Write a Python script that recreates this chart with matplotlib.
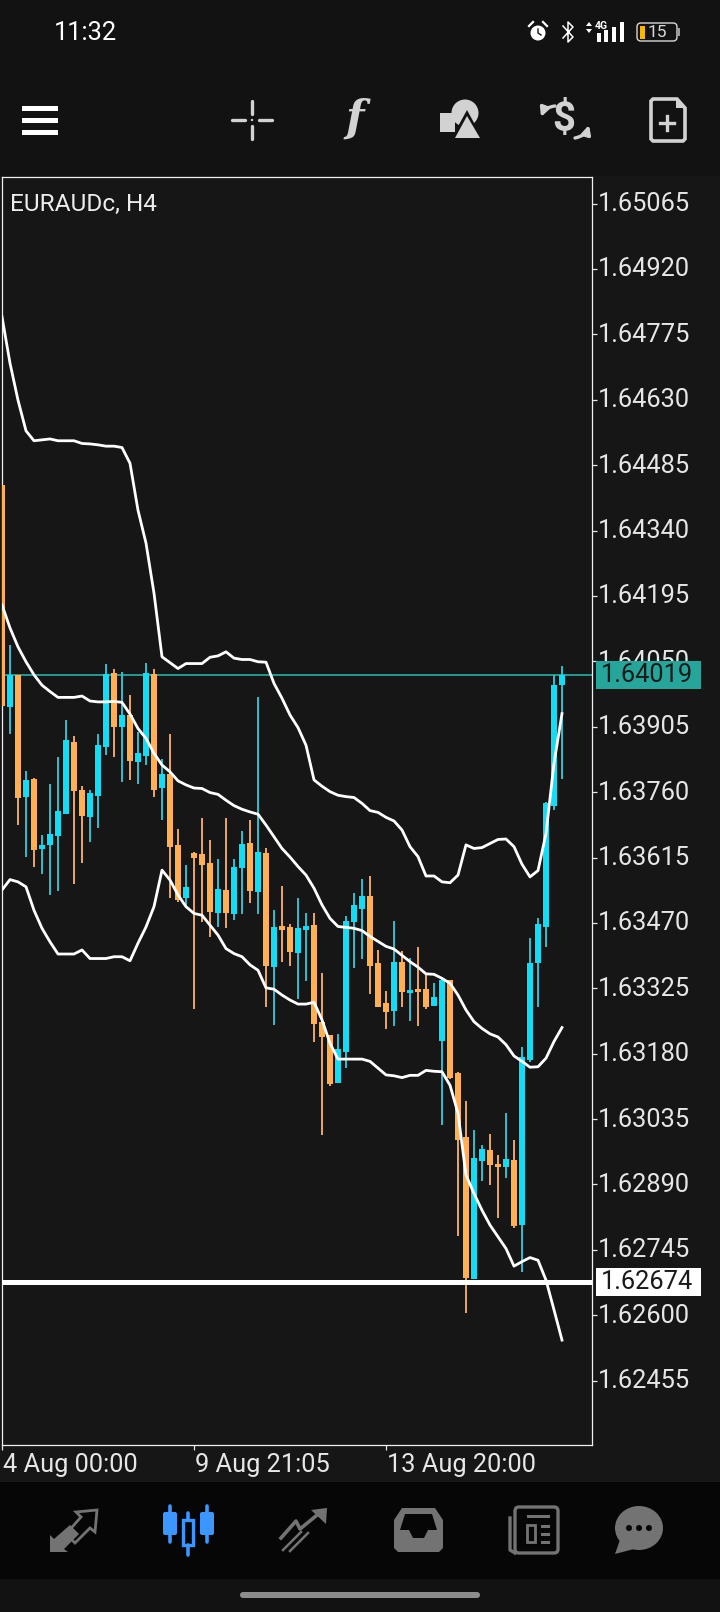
import matplotlib
matplotlib.use("Agg")
import matplotlib.pyplot as plt
import matplotlib.transforms as mtrans
from matplotlib.patches import Rectangle, Circle, Polygon, FancyBboxPatch, Ellipse

plt.rcParams['font.family'] = ['Roboto', 'DejaVu Sans']

# EURAUDc H4 candles
opens = [1.64441, 1.63949, 1.64020, 1.63750, 1.63789, 1.63634, 1.63643, 1.63663, 1.63711, 1.63871,
         1.63765, 1.63705, 1.63751, 1.63860, 1.64024, 1.63904, 1.63931, 1.63827, 1.63840, 1.64022,
         1.63769, 1.63800, 1.63643, 1.63525, 1.63625, 1.63623, 1.63603, 1.63492, 1.63543, 1.63490,
         1.63592, 1.63647, 1.63538, 1.63625, 1.63372, 1.63463, 1.63461, 1.63403, 1.63454, 1.63466,
         1.63250, 1.63222, 1.63115, 1.63184, 1.63472, 1.63501, 1.63530, 1.63381, 1.63293, 1.63275,
         1.63384, 1.63315, 1.63324, 1.63324, 1.63286, 1.63208, 1.63344, 1.63137, 1.62995, 1.62680,
         1.62942, 1.62966, 1.62935, 1.62928, 1.62944, 1.62800, 1.63166, 1.63381, 1.63461, 1.63729,
         1.63997]
highs = [1.64456, 1.64086, 1.64020, 1.63807, 1.63791, 1.63665, 1.63778, 1.63838, 1.63920, 1.63884,
         1.63773, 1.63765, 1.63889, 1.64044, 1.64033, 1.64026, 1.63975, 1.63893, 1.64046, 1.64033,
         1.63833, 1.63889, 1.63678, 1.63598, 1.63627, 1.63702, 1.63654, 1.63612, 1.63702, 1.63612,
         1.63674, 1.63698, 1.63971, 1.63636, 1.63498, 1.63552, 1.63467, 1.63525, 1.63492, 1.63492,
         1.63359, 1.63222, 1.63224, 1.63486, 1.63536, 1.63568, 1.63574, 1.63410, 1.63319, 1.63474,
         1.63408, 1.63392, 1.63417, 1.63355, 1.63337, 1.63348, 1.63344, 1.63139, 1.63075, 1.63010,
         1.62977, 1.63002, 1.62955, 1.63048, 1.62988, 1.63195, 1.63437, 1.63481, 1.63737, 1.64020,
         1.64039]
lows = [1.63920, 1.63889, 1.63687, 1.63617, 1.63595, 1.63578, 1.63532, 1.63541, 1.63711, 1.63556,
        1.63603, 1.63649, 1.63680, 1.63842, 1.63838, 1.63782, 1.63787, 1.63778, 1.63820, 1.63749,
        1.63698, 1.63525, 1.63516, 1.63510, 1.63279, 1.63472, 1.63439, 1.63461, 1.63459, 1.63476,
        1.63490, 1.63514, 1.63490, 1.63284, 1.63244, 1.63383, 1.63375, 1.63301, 1.63341, 1.63206,
        1.63000, 1.63109, 1.63115, 1.63148, 1.63370, 1.63390, 1.63313, 1.63284, 1.63235, 1.63242,
        1.63284, 1.63253, 1.63242, 1.63279, 1.63286, 1.63022, 1.63124, 1.62776, 1.62605, 1.62680,
        1.62897, 1.62889, 1.62815, 1.62904, 1.62793, 1.62696, 1.63162, 1.63284, 1.63416, 1.63720,
        1.63789]
closes = [1.63951, 1.64020, 1.63748, 1.63787, 1.63632, 1.63643, 1.63667, 1.63718, 1.63875, 1.63762,
          1.63707, 1.63758, 1.63864, 1.64022, 1.63904, 1.63931, 1.63829, 1.63847, 1.64024, 1.63765,
          1.63800, 1.63638, 1.63521, 1.63549, 1.63614, 1.63598, 1.63494, 1.63545, 1.63492, 1.63594,
          1.63645, 1.63541, 1.63627, 1.63375, 1.63461, 1.63454, 1.63405, 1.63459, 1.63463, 1.63246,
          1.63217, 1.63113, 1.63191, 1.63474, 1.63510, 1.63530, 1.63375, 1.63284, 1.63273, 1.63384,
          1.63317, 1.63321, 1.63317, 1.63284, 1.63306, 1.63344, 1.63126, 1.62988, 1.62682, 1.62948,
          1.62968, 1.62933, 1.62928, 1.62946, 1.62798, 1.63172, 1.63381, 1.63468, 1.63736, 1.63997,
          1.64020]

# Bollinger bands
upper_band = [1.64814, 1.64711, 1.64629, 1.64561, 1.64539, 1.64541, 1.64543, 1.64539, 1.64539, 1.64539,
              1.64533, 1.64532, 1.64530, 1.64527, 1.64527, 1.64524, 1.64489, 1.64385, 1.64312, 1.64201,
              1.64060, 1.64047, 1.64034, 1.64045, 1.64045, 1.64045, 1.64059, 1.64062, 1.64071, 1.64057,
              1.64054, 1.64054, 1.64049, 1.64048, 1.64001, 1.63968, 1.63931, 1.63903, 1.63864, 1.63787,
              1.63773, 1.63761, 1.63753, 1.63750, 1.63748, 1.63735, 1.63719, 1.63715, 1.63704, 1.63696,
              1.63676, 1.63639, 1.63617, 1.63574, 1.63574, 1.63561, 1.63559, 1.63576, 1.63643, 1.63635,
              1.63637, 1.63646, 1.63655, 1.63656, 1.63639, 1.63600, 1.63572, 1.63586, 1.63668, 1.63824,
              1.63934]
middle_band = [1.64175, 1.64124, 1.64082, 1.64049, 1.64020, 1.63997, 1.63983, 1.63970, 1.63970, 1.63970,
               1.63973, 1.63962, 1.63960, 1.63960, 1.63961, 1.63959, 1.63933, 1.63901, 1.63879, 1.63846,
               1.63820, 1.63805, 1.63785, 1.63776, 1.63769, 1.63768, 1.63759, 1.63755, 1.63742, 1.63730,
               1.63722, 1.63716, 1.63711, 1.63687, 1.63661, 1.63635, 1.63616, 1.63595, 1.63576, 1.63547,
               1.63510, 1.63480, 1.63462, 1.63460, 1.63458, 1.63453, 1.63440, 1.63429, 1.63418, 1.63412,
               1.63398, 1.63384, 1.63372, 1.63357, 1.63356, 1.63347, 1.63336, 1.63310, 1.63277, 1.63251,
               1.63236, 1.63224, 1.63217, 1.63200, 1.63175, 1.63163, 1.63150, 1.63151, 1.63170, 1.63207,
               1.63238]
lower_band = [1.63543, 1.63566, 1.63561, 1.63550, 1.63498, 1.63458, 1.63428, 1.63401, 1.63401, 1.63401,
              1.63410, 1.63391, 1.63391, 1.63391, 1.63395, 1.63395, 1.63386, 1.63425, 1.63461, 1.63506,
              1.63587, 1.63565, 1.63532, 1.63506, 1.63491, 1.63487, 1.63465, 1.63443, 1.63413, 1.63402,
              1.63395, 1.63377, 1.63365, 1.63326, 1.63323, 1.63310, 1.63299, 1.63290, 1.63290, 1.63294,
              1.63255, 1.63203, 1.63168, 1.63168, 1.63168, 1.63168, 1.63163, 1.63148, 1.63133, 1.63131,
              1.63127, 1.63132, 1.63132, 1.63143, 1.63141, 1.63140, 1.63110, 1.63048, 1.62911, 1.62870,
              1.62833, 1.62800, 1.62774, 1.62748, 1.62709, 1.62719, 1.62728, 1.62722, 1.62678, 1.62612,
              1.62545]

price_ticks = [1.65065, 1.64920, 1.64775, 1.64630, 1.64485, 1.64340, 1.64195, 1.64050, 1.63905, 1.63760,
               1.63615, 1.63470, 1.63325, 1.63180, 1.63035, 1.62890, 1.62745, 1.62600, 1.62455]
time_ticks = [0, 24, 48]
time_labels = ['4 Aug 00:00', '9 Aug 21:05', '13 Aug 20:00']
current_price = 1.64019
level_price = 1.62674

BG = '#161616'
CYAN = '#14DCF2'
ORANGE = '#FFB052'
CYAN_WICK = '#35BFCC'
ORANGE_WICK = '#EDA862'
TEAL = '#26A69A'
ICON = '#D2D2D2'
NAV = '#737373'
BLUE = '#3C96FF'

W, H = 720, 1612
fig = plt.figure(figsize=(W / 100, H / 100), dpi=100, facecolor='#121212')

# screen chrome lives on a full size axes in pixel coordinates
ui = fig.add_axes([0, 0, 1, 1], zorder=0)
ui.set_xlim(0, W)
ui.set_ylim(H, 0)
ui.axis('off')
ui.add_patch(Rectangle((0, 176), W, 1306, color=BG, lw=0))
ui.add_patch(Rectangle((0, 1482), W, 97, color='#060606', lw=0))

# chart
ax = fig.add_axes([1.5 / W, (H - 1445) / H, 590.5 / W, 1268 / H], zorder=1)
ax.set_facecolor(BG)
ax.set_xlim(-0.0625, 73.75)
ax.set_ylim(1.623124, 1.651238)
for s in ax.spines.values():
    s.set_color('#F0F0F0')
    s.set_linewidth(0.9)

idx = list(range(len(opens)))
wick_cols = [CYAN_WICK if c >= o else ORANGE_WICK for o, c in zip(opens, closes)]
body_cols = [CYAN if c >= o else ORANGE for o, c in zip(opens, closes)]
ax.axhline(current_price, color=TEAL, lw=1.3, zorder=1)
ax.vlines(idx, lows, highs, colors=wick_cols, lw=1.4, zorder=2)
ax.bar(idx, [abs(c - o) for o, c in zip(opens, closes)], width=0.75,
       bottom=[min(o, c) for o, c in zip(opens, closes)], color=body_cols, lw=0, zorder=3)
for band in (upper_band, middle_band, lower_band):
    ax.plot(idx, band, color='white', lw=2.0, solid_joinstyle='round', zorder=4)
ax.axhline(level_price, color='white', lw=3.6, zorder=5)

ax.yaxis.tick_right()
ax.set_yticks(price_ticks)
ax.set_yticklabels([f'{p:.5f}' for p in price_ticks])
ax.set_xticks(time_ticks)
ax.set_xticklabels(time_labels, ha='left')
ax.tick_params(axis='y', colors='#E6E6E6', labelsize=18.3, length=3.5, width=0.9, pad=1)
ax.tick_params(axis='x', colors='#E6E6E6', labelsize=18.3, length=3.5, width=0.9, pad=2)
x_shift = mtrans.ScaledTranslation(1 / 100, 0, fig.dpi_scale_trans)
for lab in ax.get_xticklabels():
    lab.set_transform(lab.get_transform() + x_shift)
y_shift = mtrans.ScaledTranslation(0, 2 / 100, fig.dpi_scale_trans)
for lab in ax.get_yticklabels():
    lab.set_transform(lab.get_transform() + y_shift)

ax.text(8.5 / 590.5, 1 - 27 / 1268, 'EURAUDc, H4', transform=ax.transAxes, color='#EDEDED',
        fontsize=17.6, va='center', ha='left', zorder=6)

# price flags on the right
flag = mtrans.blended_transform_factory(ax.transAxes, ax.transData)
flag_x = 1 + 4 / 590.5
flag_w = 105 / 590.5
flag_h = 0.00031
for price, col, txt in ((current_price, TEAL, '#1A1A1A'), (level_price, 'white', '#1A1A1A')):
    ax.add_patch(Rectangle((flag_x, price - flag_h), flag_w, 2 * flag_h, transform=flag,
                           color=col, lw=0, clip_on=False, zorder=7))
    ax.text(flag_x + flag_w / 2 - 1.5 / 590.5, price, f'{price:.5f}', transform=flag, color=txt, fontsize=18.3,
            ha='center', va='center', clip_on=False, zorder=8)

# top overlay for icons
top = fig.add_axes([0, 0, 1, 1], zorder=2)
top.set_xlim(0, W)
top.set_ylim(H, 0)
top.axis('off')
top.patch.set_alpha(0)

# status bar
top.text(54, 33, '11:32', color='white', fontsize=18.4, va='center', ha='left')
top.add_patch(Circle((538, 33), 7.5, color='white', lw=0))
top.plot([538, 538, 541], [29, 33, 35], color='#121212', lw=1)
top.plot([529, 533], [26, 22], color='white', lw=1.6)
top.plot([547, 543], [26, 22], color='white', lw=1.6)
top.plot([563, 573, 568, 568, 573, 563], [26, 37, 42, 22, 27, 38], color='white', lw=1.1)
top.add_patch(Polygon([[586, 26], [592, 26], [589, 22]], color='white', lw=0))
top.add_patch(Polygon([[586, 29], [592, 29], [589, 33]], color='white', lw=0))
top.text(601, 26, '4G', color='white', fontsize=7.5, ha='center', va='center', fontweight='bold')
for bx, by in ((597, 33), (604, 30), (612, 27), (620, 22)):
    top.add_patch(Rectangle((bx, by), 4, 42 - by, color='white', lw=0))
top.add_patch(FancyBboxPatch((637, 23), 40, 18, boxstyle='round,pad=0,rounding_size=4', fc='none',
                             ec='#D8D8D8', lw=1))
top.add_patch(Rectangle((639.5, 25.5), 5, 13, color='#F5B800', lw=0))
top.text(657, 32.5, '15', color='#D8D8D8', fontsize=12.5, ha='center', va='center')
top.add_patch(Rectangle((678, 28), 2, 8, color='#9A9A9A', lw=0))

# toolbar
for yy in (108, 120, 132):
    top.add_patch(Rectangle((22, yy - 2.5), 36, 5, color='white', lw=0))
top.plot([232, 245], [120, 120], color=ICON, lw=2.4, solid_capstyle='round')
top.plot([259, 272], [120, 120], color=ICON, lw=2.4, solid_capstyle='round')
top.plot([252, 252], [101, 114], color=ICON, lw=2.4, solid_capstyle='round')
top.plot([252, 252], [126, 139], color=ICON, lw=2.4, solid_capstyle='round')
top.add_patch(Circle((252, 120), 1.2, color=ICON, lw=0))
top.text(355, 119, 'f', color=ICON, fontsize=31, style='italic', fontweight='bold', family='DejaVu Serif',
         ha='center', va='center')
top.add_patch(Rectangle((440, 113), 15, 19, color=ICON, lw=0))
top.add_patch(Circle((465, 113), 13.5, color=ICON, lw=0))
top.add_patch(Polygon([[467, 110], [450, 141], [484, 141]], color='#121212', lw=0))
top.add_patch(Polygon([[467, 116], [455, 138], [480, 138]], color=ICON, lw=0))
top.text(564, 120, '$', color=ICON, fontsize=29, fontweight='bold', ha='center', va='center')
top.annotate('', xy=(541, 117), xytext=(555, 106),
             arrowprops=dict(arrowstyle='-|>', color=ICON, lw=2.4, mutation_scale=13,
                             shrinkA=0, shrinkB=0, connectionstyle='arc3,rad=0.3'))
top.annotate('', xy=(589, 125), xytext=(575, 138),
             arrowprops=dict(arrowstyle='-|>', color=ICON, lw=2.4, mutation_scale=13,
                             shrinkA=0, shrinkB=0, connectionstyle='arc3,rad=0.3'))
top.add_patch(Polygon([[653, 99], [677, 99], [685, 108], [685, 139], [683, 141], [653, 141], [651, 139], [651, 101]],
                      fc='none', ec=ICON, lw=2.6))
top.add_patch(Polygon([[676, 99], [685, 108], [676, 108]], color=ICON, lw=0))
top.plot([660, 674], [123, 123], color=ICON, lw=2.4)
top.plot([667, 667], [116, 130], color=ICON, lw=2.4)

# bottom navigation
top.add_patch(Polygon([[50, 1552], [50, 1535], [54, 1539], [70, 1525], [79, 1534], [64, 1549], [68, 1552]],
                      color=NAV, lw=0))
top.add_patch(Polygon([[75, 1543], [90, 1528], [95, 1532], [97, 1510], [76, 1512], [81, 1517], [66, 1534]],
                      fc='none', ec=NAV, lw=2))
for cx, b0, b1, w0, w1 in ((170, 1512, 1535, 1506, 1542), (207, 1512, 1535, 1506, 1542)):
    top.plot([cx, cx], [w0, w1], color=BLUE, lw=2.6, solid_capstyle='round')
    top.add_patch(FancyBboxPatch((cx - 7, b0), 14, b1 - b0, boxstyle='round,pad=0,rounding_size=2', color=BLUE, lw=0))
top.plot([188, 188], [1513, 1519], color=BLUE, lw=2.6, solid_capstyle='round')
top.plot([188, 188], [1545, 1555], color=BLUE, lw=2.6, solid_capstyle='round')
top.add_patch(Rectangle((183, 1520), 10, 25, fc='none', ec=BLUE, lw=2.4))
top.plot([281, 296, 300, 322], [1538, 1521, 1529, 1511], color=NAV, lw=2.6)
top.add_patch(Polygon([[327, 1508], [311, 1510], [326, 1524]], color=NAV, lw=0))
top.plot([283, 301], [1550, 1532], color=NAV, lw=1.8)
top.plot([290, 308], [1551, 1533], color=NAV, lw=1.8)
top.add_patch(Polygon([[402, 1508], [435, 1508], [443, 1520], [443, 1548], [439, 1552], [398, 1552], [394, 1548], [394, 1520]],
                      color=NAV, lw=0))
top.add_patch(Polygon([[405, 1514], [432, 1514], [437, 1530], [428, 1530], [424, 1538], [413, 1538], [409, 1530], [400, 1530]],
                      color='#060606', lw=0))
top.add_patch(FancyBboxPatch((515, 1507), 43, 46, boxstyle='round,pad=0,rounding_size=4', fc='none', ec=NAV, lw=2.4))
top.plot([510, 510, 515], [1518, 1550, 1553], color=NAV, lw=2.4)
top.add_patch(Rectangle((527, 1515), 23, 3, color=NAV, lw=0))
top.add_patch(Rectangle((527, 1525), 8, 17, fc='none', ec=NAV, lw=2))
for yy in (1525, 1533, 1541):
    top.add_patch(Rectangle((541, yy), 9, 3, color=NAV, lw=0))
top.add_patch(Ellipse((639, 1528), 48, 44, color=NAV, lw=0))
top.add_patch(Polygon([[620, 1540], [615, 1554], [634, 1549]], color=NAV, lw=0))
for dx in (629, 639, 649):
    top.add_patch(Circle((dx, 1528), 3, color='#060606', lw=0))

# home indicator
top.add_patch(FancyBboxPatch((240, 1592), 240, 6, boxstyle='round,pad=0,rounding_size=3', color='#8C8C8C', lw=0))

fig.savefig('out.png', dpi=100, facecolor=fig.get_facecolor())
